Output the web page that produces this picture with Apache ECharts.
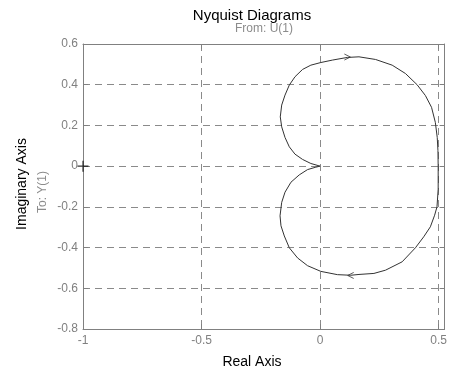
<!DOCTYPE html>
<html>
<head>
<meta charset="utf-8">
<script src="https://cdn.jsdelivr.net/npm/echarts@6/dist/echarts.min.js"></script>
<style>
  html, body { margin: 0; padding: 0; background: #fff; }
  #chart { width: 450px; height: 373px; }
</style>
</head>
<body>
<div id="chart"></div>
<script>
// Nyquist contour: real and imaginary parts, traced from the origin
// through the upper half, across the real axis at 0.5 and back along the lower half.
var realPart = [
  0, -0.039, -0.074, -0.106, -0.130, -0.148, -0.162, -0.168, -0.162, -0.148,
  -0.130, -0.106, -0.074, -0.039, 0.003, 0.052, 0.115, 0.164, 0.234, 0.304,
  0.360, 0.409, 0.444, 0.470, 0.486, 0.494, 0.497, 0.498,
  0.498, 0.493, 0.483, 0.465, 0.437, 0.402, 0.346, 0.276, 0.227, 0.164,
  0.129, 0.073, 0.003, -0.053, -0.095, -0.130, -0.151, -0.165, -0.169, -0.162,
  -0.148, -0.123, -0.088, -0.053, -0.018, 0
];
var imagPart = [
  0, 0.013, 0.033, 0.059, 0.095, 0.141, 0.193, 0.242, 0.300, 0.349,
  0.398, 0.439, 0.475, 0.496, 0.509, 0.521, 0.534, 0.537, 0.524, 0.496,
  0.455, 0.400, 0.347, 0.289, 0.215, 0.141, 0.076, 0,
  -0.113, -0.200, -0.241, -0.298, -0.347, -0.401, -0.470, -0.511, -0.527, -0.532,
  -0.536, -0.533, -0.517, -0.489, -0.451, -0.401, -0.343, -0.293, -0.244, -0.178,
  -0.128, -0.079, -0.043, -0.017, -0.005, 0
];

// Direction arrows on the contour (position and heading in degrees)
var arrowRe = [0.115, 0.129];
var arrowIm = [0.536, -0.537];
var arrowHeading = [0, 180];

// Critical point
var criticalPoint = [-1, 0];

// Axis ranges and tick spacing
var xMin = -1, xMax = 0.525, xStep = 0.5;
var yMin = -0.8, yMax = 0.6, yStep = 0.2;

var contour = realPart.map(function (r, i) { return [r, imagPart[i]]; });

var FONT = '"Liberation Sans", Arial, sans-serif';
var AXIS_GREY = '#808080';
var GRID_GREY = '#8a8a8a';

function fmt(v) { return String(+v.toFixed(2)); }
function onStep(v, step) { return Math.abs(v / step - Math.round(v / step)) < 1e-6; }

var frameLine = { show: true, onZero: false, lineStyle: { color: AXIS_GREY, width: 1 } };
var innerTick = { show: true, inside: true, length: 5, lineStyle: { color: AXIS_GREY } };
var dashedGrid = {
  show: true, showMinLine: false, showMaxLine: false,
  lineStyle: { color: GRID_GREY, type: [7, 5], width: 1 }
};

var chart = echarts.init(document.getElementById('chart'), null, { renderer: 'canvas' });

chart.setOption({
  animation: false,
  backgroundColor: '#fff',
  title: [
    { text: 'Nyquist Diagrams', left: 252, top: 8, textAlign: 'center', padding: 0,
      textStyle: { fontFamily: FONT, fontSize: 15, fontWeight: 'normal', color: '#000' } },
    { text: 'From: U(1)', left: 264, top: 23, textAlign: 'center', padding: 0,
      textStyle: { fontFamily: FONT, fontSize: 12, fontWeight: 'normal', color: '#8c8c8c' } }
  ],
  grid: { left: 83, top: 44, width: 363, height: 285, containLabel: false },
  xAxis: [
    { type: 'value', position: 'bottom', min: xMin, max: xMax, interval: xStep,
      axisLine: frameLine, axisTick: innerTick, splitLine: dashedGrid,
      axisLabel: { margin: 6, color: AXIS_GREY, fontFamily: FONT, fontSize: 12,
        formatter: function (v) { return onStep(v, xStep) ? fmt(v) : ''; } } },
    { type: 'value', position: 'top', min: xMin, max: xMax, interval: xStep,
      axisLine: frameLine, axisTick: innerTick, splitLine: { show: false },
      axisLabel: { show: false } }
  ],
  yAxis: [
    { type: 'value', position: 'left', min: yMin, max: yMax, interval: yStep,
      axisLine: frameLine, axisTick: innerTick, splitLine: dashedGrid,
      axisLabel: { margin: 5, color: AXIS_GREY, fontFamily: FONT, fontSize: 12,
        formatter: function (v) { return fmt(v); } } },
    { type: 'value', position: 'right', min: yMin, max: yMax, interval: yStep,
      axisLine: frameLine, axisTick: innerTick, splitLine: { show: false },
      axisLabel: { show: false } }
  ],
  graphic: [
    { type: 'text', x: 252, y: 362, silent: true,
      style: { text: 'Real Axis', font: '14px ' + FONT, fill: '#000',
        align: 'center', verticalAlign: 'middle', textAlign: 'center', textVerticalAlign: 'middle' } },
    { type: 'text', x: 22, y: 184, rotation: Math.PI / 2, silent: true,
      style: { text: 'Imaginary Axis', font: '14px ' + FONT, fill: '#000',
        align: 'center', verticalAlign: 'middle', textAlign: 'center', textVerticalAlign: 'middle' } },
    { type: 'text', x: 43, y: 192, rotation: Math.PI / 2, silent: true,
      style: { text: 'To: Y(1)', font: '12px ' + FONT, fill: '#8c8c8c',
        align: 'center', verticalAlign: 'middle', textAlign: 'center', textVerticalAlign: 'middle' } }
  ],
  series: [
    { type: 'line', data: contour, showSymbol: false, smooth: false, silent: true,
      lineStyle: { color: '#333', width: 1 } },
    { type: 'scatter', silent: true, clip: false,
      data: arrowRe.map(function (r, i) {
        return { value: [r, arrowIm[i]], symbolRotate: arrowHeading[i] };
      }),
      symbol: 'path://M0,0L10,5L0,10', symbolSize: [6, 6],
      itemStyle: { color: 'rgba(0,0,0,0)', borderColor: '#333', borderWidth: 1 } },
    { type: 'scatter', silent: true, clip: false, data: [criticalPoint],
      symbol: 'path://M5,0L5,10M0,5L10,5', symbolSize: 11,
      itemStyle: { color: 'rgba(0,0,0,0)', borderColor: '#000', borderWidth: 1.2 } }
  ]
});
</script>
</body>
</html>
